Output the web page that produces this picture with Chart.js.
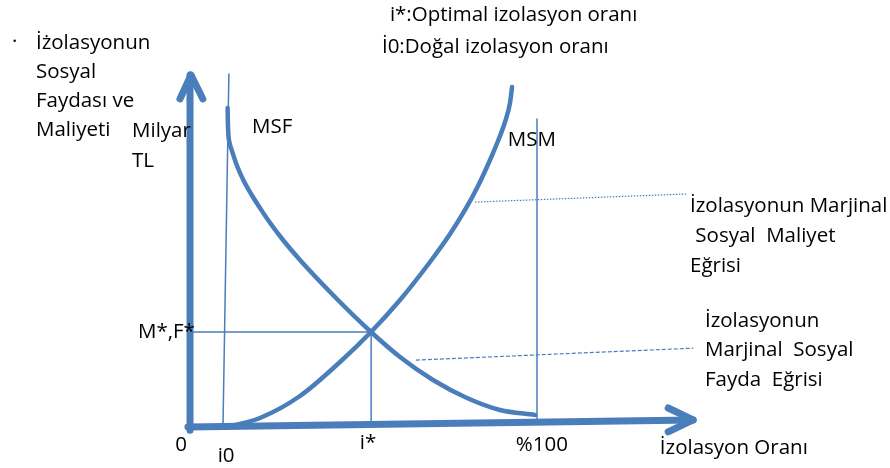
<!DOCTYPE html>
<html>
<head>
<meta charset="utf-8">
<script src="https://cdn.jsdelivr.net/npm/chart.js@4"></script>
<style>
	body { margin: 0; background: #ffffff; }
	.wrap { width: 890px; height: 468px; position: relative; }
</style>
</head>
<body>
<div class="wrap"><canvas id="chart"></canvas></div>
<script>
// x: izolasyon orani (0 = origin, 100 = %100), y: sosyal fayda / maliyet
const msfX = [10.84, 10.89, 11.07, 11.33, 12.02, 13.46, 15.36, 17.78, 20.17, 22.48, 26.8, 31.7, 41.21, 52.16, 60.52, 70.03, 79.83, 89.34, 99.42];
const msfY = [90.63, 87.22, 82.95, 80.97, 78.69, 74.43, 70.17, 65.91, 62.22, 58.81, 53.13, 47.44, 37.5, 26.99, 19.89, 13.35, 8.24, 4.83, 3.41];

const msmX = [10.95, 20.17, 31.7, 43.23, 52.16, 60.52, 69.16, 74.93, 79.25, 83.0, 86.46, 88.76, 90.78, 92.22, 92.8];
const msmY = [0, 2.56, 8.81, 18.47, 26.99, 36.08, 46.88, 54.83, 61.65, 68.47, 75.85, 81.25, 86.65, 92.05, 96.59];

const i0 = 11.2;
const iStar = 52.2;
const full = 100;
const mStar = 27;

const xTickLabels = ["0", "i0", "i*", "%100"];
const yTitleLines = ["İżolasyonun", "Sosyal", "Faydası ve", "Maliyeti"];
const msmNote = ["İzolasyonun Marjinal", " Sosyal  Maliyet", "Eğrisi"];
const msfNote = ["İzolasyonun", "Marjinal  Sosyal", "Fayda  Eğrisi"];
const legendLines = ["i*:Optimal izolasyon oranı", "İ0:Doğal izolasyon oranı"];

const BLUE = "#4a7ebb";

function pts(xs, ys) {
	return xs.map((x, i) => ({ x: x, y: ys[i] }));
}

function seg(data, width, extra = {}) {
	return Object.assign({
		data: data,
		showLine: true,
		borderColor: BLUE,
		backgroundColor: BLUE,
		borderWidth: width,
		pointRadius: 0,
		tension: 0,
		borderCapStyle: "round",
		borderJoinStyle: "round",
	}, extra);
}

const textPlugin = {
	id: "texts",
	afterDatasetsDraw(chart) {
		const ctx = chart.ctx;
		const sx = chart.scales.x;
		const sy = chart.scales.y;

		function put(text, x, y) {
			ctx.fillText(text, sx.getPixelForValue(x), sy.getPixelForValue(y));
		}

		ctx.save();
		ctx.fillStyle = "#000000";
		ctx.font = '20.5px "Open Sans", "Liberation Sans", sans-serif';
		ctx.textBaseline = "middle";
		ctx.textAlign = "left";

		put("·", -51.3, 109.4);
		yTitleLines.forEach((t, i) => put(t, -44.4, 109.1 - i * 8.3));
		put("Milyar", -16.7, 84.1);
		put("TL", -16.7, 75.6);
		put("MSF", 17.9, 85.2);
		put("MSM", 91.6, 81.5);
		put(legendLines[0], 57.6, 117.0);
		put(legendLines[1], 55.3, 108.0);
		put(msmNote[0], 144.1, 62.8);
		put(msmNote[1], 144.1, 54.3);
		put(msmNote[2], 144.1, 45.7);
		msfNote.forEach((t, i) => put(t, 148.4, 30.1 - i * 8.4));

		ctx.textAlign = "right";
		put("M*,F*", 1.4, mStar);

		ctx.textAlign = "center";
		put(xTickLabels[0], -2.6, -5.1);
		put(xTickLabels[1], i0 - 0.8, -8.2);
		put(xTickLabels[2], iStar - 0.9, -4.5);
		put(xTickLabels[3], full + 1.4, -5.1);

		ctx.textAlign = "left";
		put("İzolasyon Oranı", 135.4, -6.0);
		ctx.restore();
	},
};

new Chart(document.getElementById("chart"), {
	type: "scatter",
	data: {
		datasets: [
			// helper lines
			seg([{ x: i0, y: 100.3 }, { x: 9.5, y: 0 }], 1.5),
			seg([{ x: full, y: 87.5 }, { x: full, y: 2.0 }], 1.5),
			seg([{ x: 0, y: mStar }, { x: iStar, y: mStar }], 1.5),
			seg([{ x: iStar, y: mStar }, { x: iStar, y: 0.6 }], 1.5),
			// leader lines
			seg([{ x: 82.1, y: 63.9 }, { x: 143.0, y: 66.2 }], 1.2, { borderDash: [1.5, 1.5], borderCapStyle: "butt" }),
			seg([{ x: 65.1, y: 19.0 }, { x: 145.0, y: 22.4 }], 1.2, { borderDash: [4, 2], borderCapStyle: "butt" }),
			// curves
			seg(pts(msfX, msfY), 4.5, { cubicInterpolationMode: "monotone" }),
			seg(pts(msmX, msmY), 4.5, { cubicInterpolationMode: "monotone" }),
			// axes with arrow heads
			seg([{ x: 0, y: -0.9 }, { x: 0, y: 100 }], 7),
			seg([{ x: -2.9, y: 93.2 }, { x: 0.3, y: 100 }, { x: 3.7, y: 93.2 }], 7),
			seg([{ x: -0.6, y: 0 }, { x: 145, y: 2.0 }], 7),
			seg([{ x: 137.8, y: 5.4 }, { x: 145, y: 2.0 }, { x: 137.8, y: -1.4 }], 7),
		],
	},
	options: {
		responsive: true,
		maintainAspectRatio: false,
		animation: false,
		layout: { padding: 0 },
		plugins: {
			legend: { display: false },
			tooltip: { enabled: false },
		},
		scales: {
			x: { type: "linear", display: false, min: -54.76, max: 201.73 },
			y: { type: "linear", display: false, min: -11.65, max: 121.31 },
		},
	},
	plugins: [textPlugin],
});
</script>
</body>
</html>
